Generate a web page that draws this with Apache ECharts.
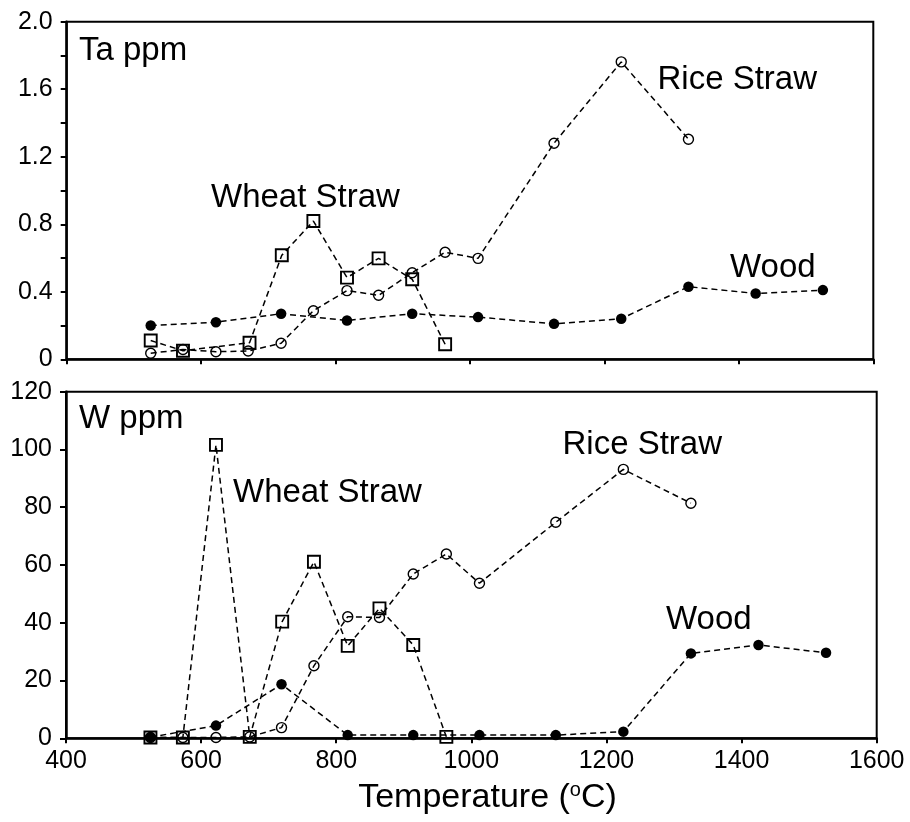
<!DOCTYPE html>
<html>
<head>
<meta charset="utf-8">
<script src="https://cdn.jsdelivr.net/npm/echarts@6/dist/echarts.min.js"></script>
<style>
  html, body { margin: 0; padding: 0; background: #fff; }
  #chart { width: 910px; height: 822px; }
</style>
</head>
<body>
<div id="chart"></div>
<script>
// Temperature axis ticks (°C)
const tempTicks = [400, 600, 800, 1000, 1200, 1400, 1600];

// Ta (ppm) panel
const taTickLabels = ['0', '0.4', '0.8', '1.2', '1.6', '2.0'];
const woodTaTemp  = [525, 622, 719, 817, 914, 1012, 1125, 1225, 1325, 1425, 1525];
const woodTa      = [0.20, 0.22, 0.27, 0.23, 0.27, 0.25, 0.21, 0.24, 0.43, 0.39, 0.41];
const riceTaTemp  = [525, 573, 622, 670, 719, 767, 817, 864, 914, 963, 1012, 1125, 1225, 1325];
const riceTa      = [0.036, 0.058, 0.045, 0.049, 0.095, 0.288, 0.407, 0.379, 0.513, 0.634, 0.598, 1.28, 1.762, 1.304];
const wheatTaTemp = [525, 573, 672, 720, 767, 817, 864, 914, 963];
const wheatTa     = [0.111, 0.051, 0.098, 0.616, 0.819, 0.484, 0.598, 0.474, 0.089];

// W (ppm) panel
const wTickLabels = ['0', '20', '40', '60', '80', '100', '120'];
const woodWTemp   = [525, 622, 719, 817, 914, 1012, 1125, 1225, 1325, 1425, 1525];
const woodW       = [0.4, 4.4, 18.7, 1.1, 1.1, 1.1, 1.1, 2.3, 29.4, 32.3, 29.6];
const riceWTemp   = [525, 573, 622, 672, 719, 767, 817, 864, 914, 963, 1012, 1125, 1225, 1325];
const riceW       = [0.3, 0.3, 0.3, 0.5, 3.7, 25.1, 42.1, 41.8, 56.9, 63.8, 53.7, 74.8, 93.1, 81.4];
const wheatWTemp  = [525, 573, 622, 672, 720, 767, 817, 864, 914, 963];
const wheatW      = [0.3, 0.3, 101.6, 0.5, 40.4, 61.1, 32.0, 45.0, 32.3, 0.5];

const FONT = '"Liberation Sans", Arial, Helvetica, sans-serif';
const zip = (xs, ys) => xs.map((x, i) => [x, ys[i]]);

const dashed = { color: '#000', width: 1.5, type: [6, 4] };
const filled = { symbol: 'circle', symbolSize: 10.5, itemStyle: { color: '#000' } };
const hollowCircle = { symbol: 'circle', symbolSize: 10,
  itemStyle: { color: 'rgba(0,0,0,0)', borderColor: '#000', borderWidth: 1.4 } };
const hollowSquare = { symbol: 'rect', symbolSize: 12,
  itemStyle: { color: 'rgba(0,0,0,0)', borderColor: '#000', borderWidth: 1.9 } };

function lineSeries(name, axis, data, marker) {
  return Object.assign({
    name, type: 'line', xAxisIndex: axis, yAxisIndex: axis, data,
    lineStyle: dashed, showAllSymbol: true, animation: false, silent: true,
    emphasis: { disabled: true }
  }, marker);
}

function xAxis(gridIndex, showLabels) {
  return {
    type: 'value', gridIndex, min: tempTicks[0], max: tempTicks[tempTicks.length - 1],
    interval: tempTicks[1] - tempTicks[0],
    axisLine: { show: true, onZero: false, lineStyle: { color: '#000', width: 2.5 } },
    axisTick: { show: true, inside: false, length: 5, lineStyle: { color: '#000', width: 2 } },
    axisLabel: { show: showLabels, color: '#000', fontSize: 25, fontFamily: FONT, margin: 10,
      formatter: (v) => String(v) },
    splitLine: { show: false }
  };
}

function yAxis(gridIndex, max, interval, labels, minor) {
  return {
    type: 'value', gridIndex, min: 0, max, interval,
    axisLine: { show: true, lineStyle: { color: '#000', width: 2.5 } },
    axisTick: { show: true, inside: false, length: 6, lineStyle: { color: '#000', width: 2 } },
    minorTick: { show: minor, splitNumber: 2, length: 6, lineStyle: { color: '#000', width: 2 } },
    axisLabel: { color: '#000', fontSize: 25, fontFamily: FONT, margin: 14,
      formatter: (v, i) => labels[i] },
    splitLine: { show: false }, minorSplitLine: { show: false }
  };
}

function label(text, x, y) {
  return { type: 'text', x, y, silent: true,
    style: { text, fill: '#000', font: '33px ' + FONT, verticalAlign: 'middle', align: 'left' } };
}

const chart = echarts.init(document.getElementById('chart'), null, { renderer: 'canvas' });
chart.setOption({
  backgroundColor: '#fff',
  animation: false,
  grid: [
    { left: 66.7, top: 21.7, width: 806.6, height: 337.6, show: true,
      borderColor: '#000', borderWidth: 2, backgroundColor: 'rgba(0,0,0,0)' },
    { left: 66, top: 391.7, width: 810.7, height: 346.6, show: true,
      borderColor: '#000', borderWidth: 2, backgroundColor: 'rgba(0,0,0,0)' }
  ],
  xAxis: [xAxis(0, false), xAxis(1, true)],
  yAxis: [yAxis(0, 2.0, 0.4, taTickLabels, true), yAxis(1, 120, 20, wTickLabels, false)],
  series: [
    lineSeries('Wood', 0, zip(woodTaTemp, woodTa), filled),
    lineSeries('Rice Straw', 0, zip(riceTaTemp, riceTa), hollowCircle),
    lineSeries('Wheat Straw', 0, zip(wheatTaTemp, wheatTa), hollowSquare),
    lineSeries('Wood', 1, zip(woodWTemp, woodW), filled),
    lineSeries('Rice Straw', 1, zip(riceWTemp, riceW), hollowCircle),
    lineSeries('Wheat Straw', 1, zip(wheatWTemp, wheatW), hollowSquare)
  ],
  graphic: [
    label('Ta ppm', 79, 50.5),
    label('Wheat Straw', 211, 198),
    label('Rice Straw', 657.5, 80),
    label('Wood', 730, 268.3),
    label('W ppm', 79, 419),
    label('Wheat Straw', 233, 492.5),
    label('Rice Straw', 562.5, 445),
    label('Wood', 666, 620),
    { type: 'text', x: 487.5, y: 800.5, silent: true,
      style: {
        text: '{a|Temperature (}{b|o}{a|C)}',
        align: 'center', verticalAlign: 'middle',
        rich: {
          a: { fontSize: 34, fontFamily: FONT, fill: '#000', lineHeight: 40, verticalAlign: 'top' },
          b: { fontSize: 20, fontFamily: FONT, fill: '#000', lineHeight: 36, verticalAlign: 'top' }
        }
      } }
  ]
});
</script>
</body>
</html>
